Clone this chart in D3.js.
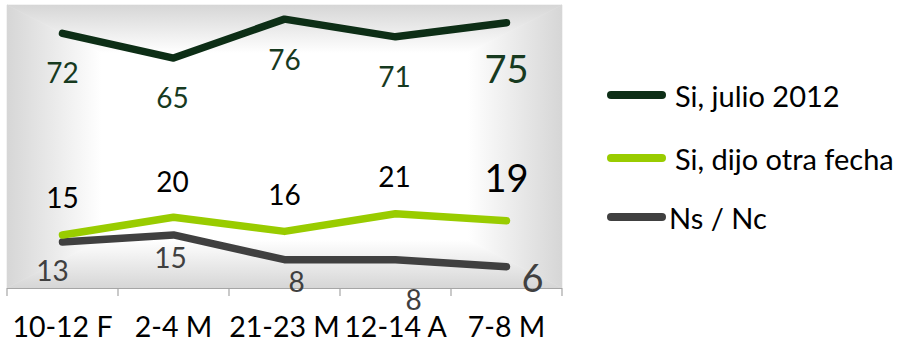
<!DOCTYPE html>
<html><head><meta charset="utf-8">
<script src="https://cdn.jsdelivr.net/npm/d3@7"></script>
<style>html,body{margin:0;padding:0;background:#fff;}svg{display:block;font-family:Lato,"Open Sans",sans-serif;}</style>
</head><body>
<svg id="chart" width="902" height="346"></svg>
<script>
// ---- data ----
const categories = ["10-12 F", "2-4 M", "21-23 M", "12-14 A", "7-8 M"];
const seriesNames = ["Si, julio 2012", "Si, dijo otra fecha", "Ns / Nc"];
const julio2012 = [72, 65, 76, 71, 75];
const otraFecha = [15, 20, 16, 21, 19];
const nsnc = [13, 15, 8, 8, 6];
const yDomain = [0, 80];

// ---- layout (label nudges, not data) ----
const labelOffsets = [
  [[0,50],[-1,50],[0,51],[-1,50],[0,60]],
  [[0,-27],[-1,-25],[0,-26],[-1,-27],[0,-29]],
  [[-10,39],[-3,33],[12,32],[18,50],[26,25]]
];
const colors = ["#0d2e16", "#99cc00", "#404040"];
const labelColors = ["#173a1f", "#000000", "#404040"];

const svg = d3.select("#chart");
const x0 = 7, x1 = 562, yTop = 5, yBot = 288;
const x = d3.scaleBand().domain(categories).range([x0, x1]).padding(0);
const y = d3.scaleLinear().domain(yDomain).range([yBot, yTop]);

// ---- plot background: rectangular path gradient (gray edges -> white) ----
const defs = svg.append("defs");
const W = x1 - x0, H = yBot - yTop, cx = x0 + W/2, cy = yTop + H/2;
const edge = "#d6d6d6";
function grad(id, xa, ya, xb, yb) {
  const g = defs.append("linearGradient").attr("id", id)
    .attr("gradientUnits", "userSpaceOnUse")
    .attr("x1", xa).attr("y1", ya).attr("x2", xb).attr("y2", yb);
  g.append("stop").attr("offset", 0).attr("stop-color", edge);
  g.append("stop").attr("offset", 0.34).attr("stop-color", "#ffffff");
  g.append("stop").attr("offset", 1).attr("stop-color", "#ffffff");
}
grad("gL", x0, 0, cx, 0);
grad("gR", x1, 0, cx, 0);
grad("gT", 0, yTop, 0, cy);
grad("gB", 0, yBot, 0, cy);
const bg = svg.append("g");
const tri = (pts, fill) => bg.append("path").attr("d", "M" + pts.map(p => p.join(",")).join("L") + "Z")
  .attr("fill", fill).attr("stroke", fill).attr("stroke-width", 0.6);
tri([[x0,yTop],[x0,yBot],[cx,cy]], "url(#gL)");
tri([[x1,yTop],[x1,yBot],[cx,cy]], "url(#gR)");
tri([[x0,yTop],[x1,yTop],[cx,cy]], "url(#gT)");
tri([[x0,yBot],[x1,yBot],[cx,cy]], "url(#gB)");

// ---- x axis ----
const axis = d3.axisBottom(x).tickSize(0).tickPadding(0);
const ax = svg.append("g").attr("transform", `translate(0,${yBot})`).call(axis);
ax.select(".domain").attr("stroke", "#a6a6a6").attr("stroke-width", 1.2)
  .attr("d", `M${x0},0.5H${x1}`);
ax.selectAll(".tick text").attr("font-size", 28.5).attr("fill", "#000")
  .attr("font-family", "Lato, sans-serif").attr("dy", null).attr("y", 49);
const bounds = categories.map(c => x(c)).concat([x1]);
ax.selectAll(".bound").data(bounds).enter().append("line").attr("class", "bound")
  .attr("x1", d => d).attr("x2", d => d).attr("y1", 0).attr("y2", 8)
  .attr("stroke", "#a6a6a6").attr("stroke-width", 1.2);

// ---- lines ----
const allSeries = [julio2012, otraFecha, nsnc];
const line = d3.line().x((d, i) => x(categories[i]) + x.bandwidth()/2).y(d => y(d));
allSeries.slice().reverse().forEach((s, ri) => {
  const k = allSeries.length - 1 - ri;
  svg.append("path").datum(s).attr("d", line).attr("fill", "none")
    .attr("stroke", colors[k]).attr("stroke-width", 7.5)
    .attr("stroke-linejoin", "round").attr("stroke-linecap", "round");
});

// ---- data labels ----
allSeries.forEach((s, k) => {
  svg.append("g").selectAll("text").data(s).enter().append("text")
    .attr("x", (d, i) => x(categories[i]) + x.bandwidth()/2 + labelOffsets[k][i][0])
    .attr("y", (d, i) => y(d) + labelOffsets[k][i][1])
    .attr("text-anchor", "middle")
    .attr("font-size", (d, i) => i === s.length - 1 ? 38 : 28)
    .attr("fill", labelColors[k])
    .text(d => d);
});

// ---- legend ----
const legY = [95, 158, 217];
const legTextX = [675, 675, 669];
const leg = svg.append("g");
seriesNames.forEach((n, k) => {
  leg.append("line").attr("x1", 611).attr("x2", 662).attr("y1", legY[k]).attr("y2", legY[k])
    .attr("stroke", colors[k]).attr("stroke-width", 8).attr("stroke-linecap", "round");
  leg.append("text").attr("x", legTextX[k]).attr("y", legY[k] + 12)
    .attr("font-size", 29).attr("fill", "#000").text(n);
});
</script>
</body></html>
